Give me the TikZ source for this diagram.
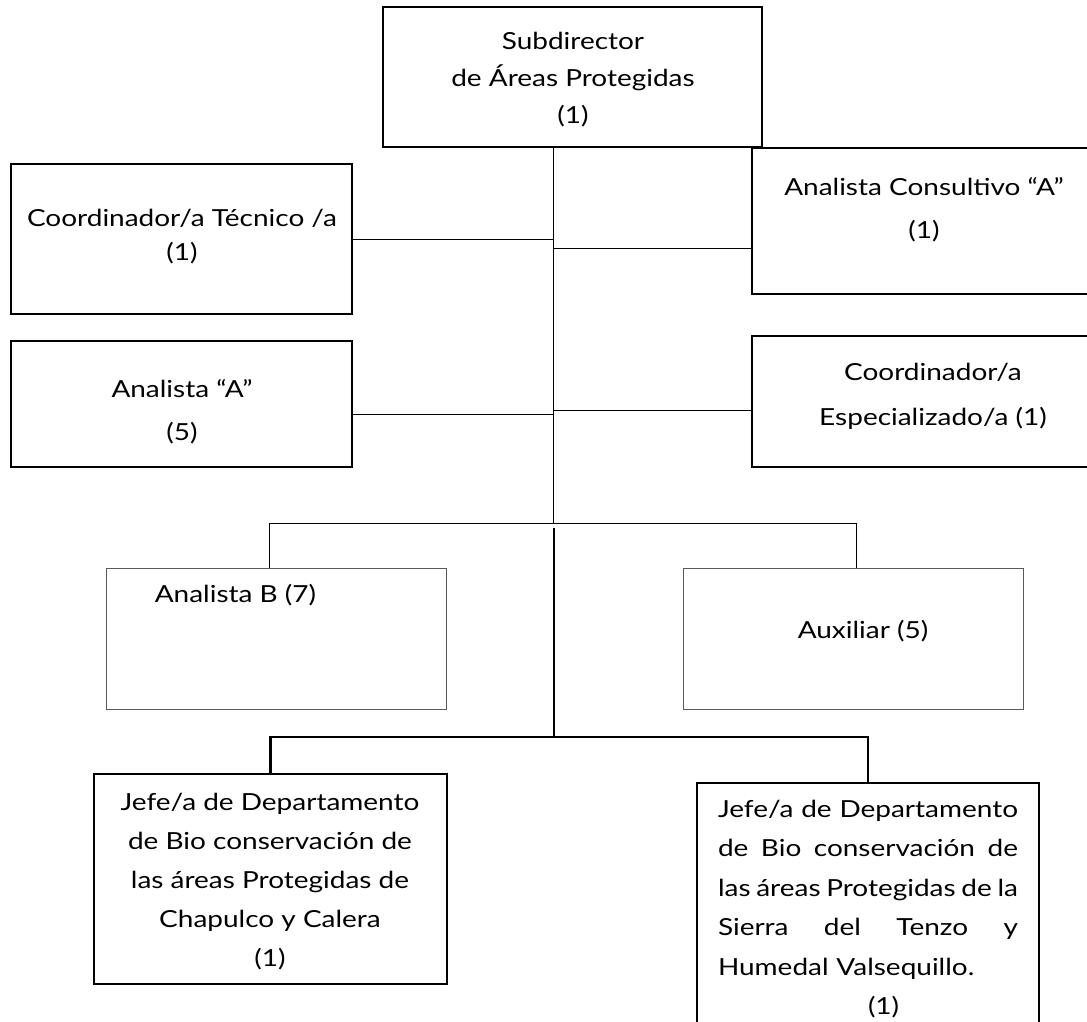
\documentclass[tikz,border=0pt]{standalone}
\usepackage{fontspec}
\setmainfont{Lato}[FakeStretch=1.19]

\begin{document}
\begin{tikzpicture}[x=1pt, y=-1pt]
\tikzset{ box/.style={draw, line width=1.2pt, inner sep=0pt, outer sep=0pt},
          softbox/.style={box, draw=black!65, line width=1pt},
          bossbox/.style={box, line width=2pt},
          txt/.style={inner sep=0pt, outer sep=0pt, align=center},
          ln/.style={line width=1pt},
          lnthick/.style={line width=2.2pt},
}

\useasboundingbox (0,0) rectangle (1087,1021);
\clip (0,0) rectangle (1087,1021);
%\draw [help lines, step=50] (0,0) grid (1087,1021);

% boxes
\node [box, minimum width=379pt, minimum height=140pt] (sub)  at (572.5,77)  {};
\node [box, minimum width=341pt, minimum height=150pt] (tec)  at (181.5,239) {};
\node [box, minimum width=341pt, minimum height=126pt] (anA)  at (181.5,404) {};
\node [box, minimum width=368pt, minimum height=146pt] (cons) at (936,221)   {};
\node [box, minimum width=368pt, minimum height=131pt] (esp)  at (936,401.5) {};
\node [softbox, minimum width=340pt, minimum height=141pt] (anB) at (276,638.5) {};
\node [softbox, minimum width=340pt, minimum height=141pt] (aux) at (853,638.5) {};
\node [bossbox, minimum width=353pt, minimum height=210pt] (jefeA) at (270.5,879) {};
\node [bossbox, minimum width=342pt, minimum height=277pt] (jefeB) at (868,921.5) {};

% texts
\node [txt, font=\fontsize{23.5}{37}\selectfont] (sub-t) at (573,80)
  {Subdirector\\de Áreas Protegidas\\(1)};
\node [txt, font=\fontsize{23.5}{34}\selectfont] (tec-t) at (182,236.5)
  {Coordinador/a Técnico /a\\(1)};
\node [txt, font=\fontsize{23.5}{43}\selectfont] (anA-t) at (182,411.5)
  {Analista “A”\\(5)};
\node [txt, font=\fontsize{23.5}{43}\selectfont] (cons-t) at (924,209.5)
  {Analista Consultivo “A”\\(1)};
\node [txt, font=\fontsize{23.5}{45}\selectfont] (esp-t) at (933,396.5)
  {Coordinador/a\\Especializado/a (1)};
\node [txt, font=\fontsize{23.5}{40}\selectfont] (anB-t) at (235.5,595)
  {Analista B (7)};
\node [txt, font=\fontsize{23.5}{40}\selectfont] (aux-t) at (863,631)
  {Auxiliar (5)};
\node [txt, font=\fontsize{23.5}{39}\selectfont] (jefeA-t) at (270,881.5)
  {Jefe/a de Departamento\\de Bio conservación de\\las áreas Protegidas de\\Chapulco y Calera\\(1)};
\node [txt, anchor=north west, align=left, text width=300pt, font=\fontsize{23.5}{39.5}\selectfont] (jefeB-t) at (718,800)
  {\makebox[300pt]{Jefe/a\hfill de\hfill Departamento}\\
   \makebox[300pt]{de\hfill Bio\hfill conservación\hfill de}\\
   \makebox[300pt]{las\hfill áreas\hfill Protegidas\hfill de\hfill la}\\
   \makebox[300pt]{Sierra\hfill del\hfill Tenzo\hfill y}\\
   Humedal Valsequillo.\\
   \hspace*{150pt}(1)};

% junctions
\coordinate (b1)  at (553,523);
\coordinate (bL)  at (269,523);
\coordinate (bR)  at (856,523);
\coordinate (cA)  at (553,414);
\coordinate (cC)  at (553,248);
\coordinate (cE)  at (553,410);
\coordinate (b1s) at (554,528);
\coordinate (b2)  at (554,737);

\draw [ln] (sub.south -| b1) -- (b1);
\draw [ln] (tec.east) -- (tec.east -| b1);
\draw [ln] (cA) -- (cA -| anA.east);
\draw [ln] (cC) -- (cC -| cons.west);
\draw [ln] (cE) -- (cE -| esp.west);
\draw [ln] (bL |- anB.north) -- (bL) -- (bR) -- (bR |- aux.north);

\draw [lnthick] (b1s) -- (b2);
\draw [lnthick] (jefeA.north) |- (b2) -| (jefeB.north);

\end{tikzpicture}
\end{document}
